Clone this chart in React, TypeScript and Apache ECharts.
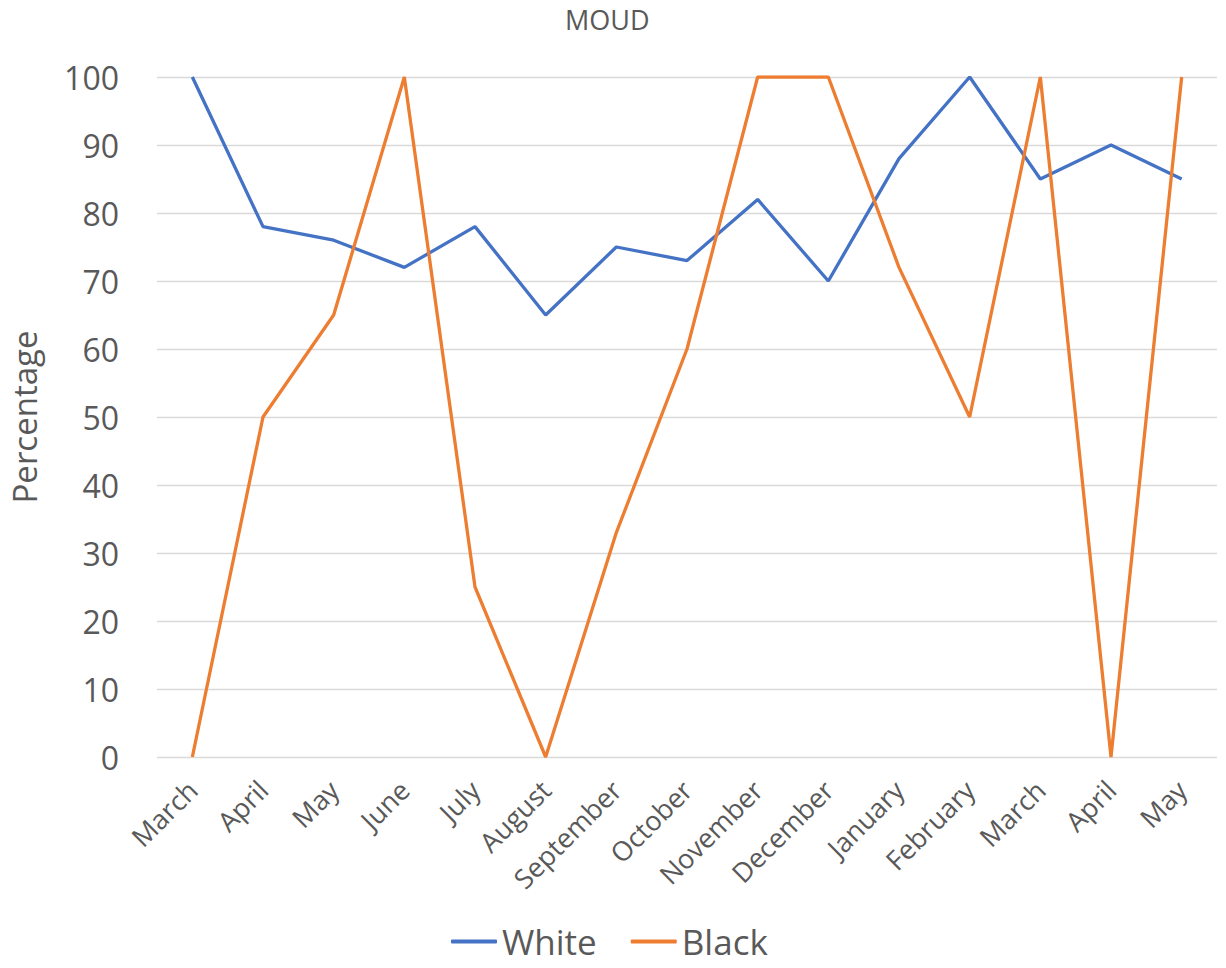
import React, { useEffect, useRef } from "react";
import * as echarts from "echarts";

const categories = ["March", "April", "May", "June", "July", "August", "September", "October", "November", "December", "January", "February", "March", "April", "May"];
const whiteValues = [100, 78, 76, 72, 78, 65, 75, 73, 82, 70, 88, 100, 85, 90, 85];
const blackValues = [0, 50, 65, 100, 25, 0, 33, 60, 100, 100, 72, 50, 100, 0, 100];

export default function App() {
  const ref = useRef<HTMLDivElement>(null);
  useEffect(() => {
    document.body.style.margin = "0";
    document.body.style.overflow = "hidden";
    if (!ref.current) return;
    const chart = echarts.init(ref.current, null, { renderer: "svg" });
    const font = "'Open Sans', 'Noto Sans', sans-serif";
    chart.setOption({
      animation: false,
      textStyle: { fontFamily: font },
      title: {
        text: "MOUD",
        left: 565,
        top: 6,
        padding: 0,
        textStyle: { fontFamily: font, fontSize: 27, fontWeight: "normal", color: "#595959" },
      },
      grid: { left: 150, right: 9, top: 77, bottom: 211, containLabel: false },
      legend: {
        top: 924,
        left: 451,
        padding: 0,
        itemWidth: 46,
        itemHeight: 4,
        itemGap: 34,
        icon: "roundRect",
        textStyle: { fontFamily: font, fontSize: 35, color: "#595959" },
        data: ["White", "Black"],
      },
      xAxis: {
        type: "category",
        data: categories,
        boundaryGap: true,
        axisLine: { show: false },
        axisTick: { show: false },
        axisLabel: { rotate: 45, fontSize: 27, color: "#595959", margin: 28, interval: 0, fontFamily: font },
      },
      yAxis: {
        type: "value",
        min: 0,
        max: 100,
        interval: 10,
        name: "Percentage",
        nameLocation: "middle",
        nameGap: 116,
        nameTextStyle: { fontSize: 33, color: "#595959", fontFamily: font },
        axisLine: { show: false },
        axisTick: { show: false },
        axisLabel: { fontSize: 32, color: "#595959", margin: 38, fontFamily: font },
        splitLine: { lineStyle: { color: "#d9d9d9", width: 1.3 } },
      },
      series: [
        {
          name: "White",
          type: "line",
          data: whiteValues,
          symbol: "none",
          lineStyle: { color: "#4472C4", width: 3.3 },
          itemStyle: { color: "#4472C4" },
        },
        {
          name: "Black",
          type: "line",
          data: blackValues,
          symbol: "none",
          lineStyle: { color: "#ED7D31", width: 3.3 },
          itemStyle: { color: "#ED7D31" },
        },
      ],
    });
    return () => chart.dispose();
  }, []);
  return <div ref={ref} style={{ width: 1226, height: 968 }} />;
}
